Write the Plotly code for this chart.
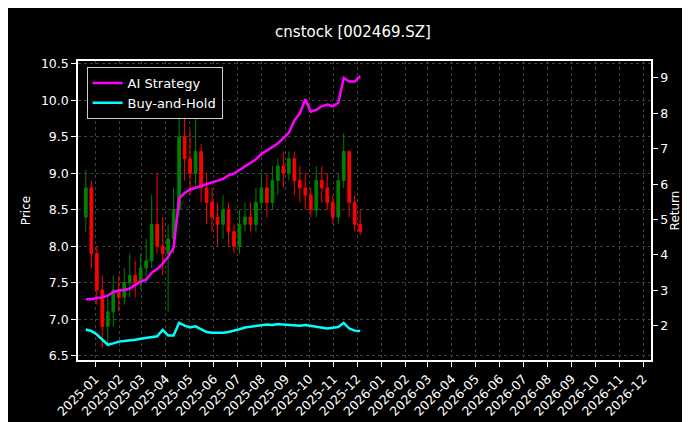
import pandas as pd
import plotly.graph_objects as go

# weekly bars (Friday dates)
dates = pd.date_range('2024-12-20', '2025-12-12', freq='W-FRI')[:51]

opens = [8.4, 8.8, 7.9, 7.4, 6.9, 7.1, 7.4, 7.3, 7.5, 7.6, 7.5, 7.7, 7.8,
         8.3, 8.0, 7.9, 8.1, 8.5, 9.5, 9.2, 9.0, 9.3, 8.8, 8.6, 8.4, 8.3,
         8.5, 8.2, 8.0, 8.3, 8.4, 8.3, 8.6, 8.8, 8.6, 8.9, 9.1, 9.0, 9.2,
         8.9, 8.8, 8.7, 8.5, 8.9, 8.8, 8.6, 8.4, 8.9, 9.3, 8.6, 8.3]
closes = [8.8, 7.9, 7.4, 6.9, 7.1, 7.4, 7.3, 7.5, 7.6, 7.5, 7.7, 7.8, 8.3,
          8.0, 7.9, 8.1, 8.5, 9.5, 9.2, 9.0, 9.3, 8.8, 8.6, 8.4, 8.3, 8.5,
          8.2, 8.0, 8.3, 8.4, 8.3, 8.6, 8.8, 8.6, 8.9, 9.1, 9.0, 9.2, 8.9,
          8.8, 8.7, 8.5, 8.9, 8.8, 8.6, 8.4, 8.9, 9.3, 8.6, 8.3, 8.2]
highs = [9.05, 8.9, 8.0, 7.6, 7.3, 7.6, 7.6, 7.7, 7.9, 7.8, 7.9, 8.1, 8.7,
         9.0, 8.4, 8.3, 8.8, 10.4, 9.9, 9.6, 9.9, 9.4, 9.0, 8.8, 8.6, 8.7,
         8.6, 8.3, 8.5, 8.6, 8.6, 8.8, 9.0, 9.0, 9.1, 9.2, 9.3, 9.3, 9.3,
         9.1, 9.0, 8.8, 9.1, 9.1, 9.0, 8.7, 9.0, 9.55, 9.3, 8.7, 8.5]
lows = [8.2, 7.7, 7.2, 6.6, 6.65, 6.9, 7.1, 7.2, 7.3, 7.3, 7.4, 7.5, 7.7,
        7.9, 7.6, 7.1, 7.9, 8.4, 8.9, 8.7, 8.8, 8.6, 8.3, 8.2, 8.0, 8.1,
        8.0, 7.9, 7.9, 8.2, 8.2, 8.2, 8.5, 8.4, 8.5, 8.7, 8.8, 8.9, 8.7,
        8.6, 8.5, 8.4, 8.4, 8.6, 8.5, 8.3, 8.3, 8.8, 8.4, 8.2, 8.15]

ai_return = [2.75, 2.75, 2.78, 2.8, 2.85, 2.95, 3.0, 3.0, 3.05, 3.15, 3.25,
             3.3, 3.5, 3.6, 3.75, 3.95, 4.2, 5.6, 5.75, 5.85, 5.9, 5.95,
             6.0, 6.05, 6.1, 6.15, 6.25, 6.3, 6.4, 6.5, 6.6, 6.7, 6.85,
             6.95, 7.05, 7.15, 7.3, 7.45, 7.8, 8.0, 8.4, 8.05, 8.1, 8.2,
             8.25, 8.2, 8.3, 9.0, 8.9, 8.9, 9.05]
bh_return = [1.89, 1.85, 1.75, 1.6, 1.46, 1.5, 1.55, 1.57, 1.58, 1.6,
             1.63, 1.65, 1.68, 1.7, 1.88, 1.72, 1.72, 2.08, 2.0, 1.95,
             1.98, 1.9, 1.82, 1.8, 1.79, 1.8, 1.82, 1.85, 1.9, 1.95,
             1.97, 2.0, 2.02, 2.03, 2.02, 2.05, 2.03, 2.02, 2.03, 2.0,
             2.02, 2.0, 1.98, 1.95, 1.92, 1.94, 1.96, 2.08, 1.92, 1.86, 1.85]

font = dict(family='DejaVu Sans', color='white', size=12.5)
grid = dict(showgrid=True, gridcolor='#404040', griddash='dot', gridwidth=1)
axis = dict(showline=True, linecolor='white', linewidth=1.5, ticks='outside',
            tickcolor='white', ticklen=5, zeroline=False)

fig = go.Figure()
fig.add_trace(go.Candlestick(
    x=dates, open=opens, high=highs, low=lows, close=closes,
    increasing=dict(line=dict(color='green', width=1), fillcolor='green'),
    decreasing=dict(line=dict(color='red', width=1), fillcolor='red'),
    whiskerwidth=0, showlegend=False, yaxis='y'))
fig.add_trace(go.Scatter(x=dates, y=ai_return, mode='lines', name='AI Strategy',
                         line=dict(color='#ff00ff', width=2.5), yaxis='y2'))
fig.add_trace(go.Scatter(x=dates, y=bh_return, mode='lines', name='Buy-and-Hold',
                         line=dict(color='#00ffff', width=2.5), yaxis='y2'))

months = pd.date_range('2025-01-01', '2026-12-01', freq='MS')
fig.update_layout(
    width=690, height=422,
    paper_bgcolor='black', plot_bgcolor='black', font=font,
    title=dict(text='cnstock [002469.SZ]', x=0.5, y=0.955, xanchor='center',
               font=dict(size=15, color='white')),
    margin=dict(l=70, r=47, t=53, b=70),
    xaxis=dict(range=['2024-12-10', '2026-12-11'], rangeslider=dict(visible=False),
               tickvals=months, ticktext=[m.strftime('%Y-%m') for m in months],
               tickangle=-45, mirror=True, **axis, **grid),
    yaxis=dict(title=dict(text='Price', standoff=8, font=dict(size=12)),
               range=[6.44, 10.54], dtick=0.5, tickformat='.1f', **axis, **grid),
    yaxis2=dict(title=dict(text='Return', standoff=2, font=dict(size=12)),
                overlaying='y', side='right', range=[1.03, 9.48], dtick=1,
                showgrid=False, **axis),
    legend=dict(x=0.015, y=0.98, xanchor='left', yanchor='top', bgcolor='black',
                bordercolor='#cccccc', borderwidth=1, font=dict(size=13)),
)
fig.write_html('out.html')
